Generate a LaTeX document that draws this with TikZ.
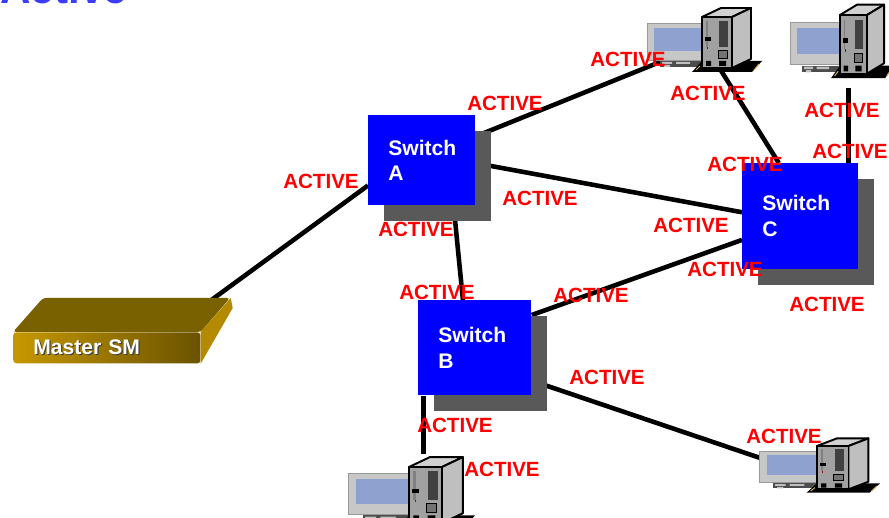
\documentclass[tikz,border=0pt]{standalone}
\usepackage{fontspec}
\setmainfont{Liberation Sans}
\usetikzlibrary{positioning}
\usetikzlibrary{backgrounds}
\usetikzlibrary{shadows}
\usetikzlibrary{calc}
\definecolor{swblue}{RGB}{0,0,255}
\definecolor{swshade}{RGB}{89,89,89}
\definecolor{smgold}{RGB}{198,152,0}
\definecolor{smdark}{RGB}{106,82,0}
\definecolor{smtop}{RGB}{122,97,0}
\definecolor{smside}{RGB}{180,139,0}
\definecolor{screen}{RGB}{143,162,207}
\definecolor{plate}{RGB}{205,165,95}
\definecolor{titleblue}{RGB}{60,60,255}
% white text with a small dark drop under it
\newcommand\embossed[1]{\makebox[0pt][l]{\kern0.7pt\raisebox{-0.7pt}{\color{black!75}#1}}#1}
\tikzset{
semithick, % all lines semithick
network/.style={x=0.2mm,y=-0.2mm},
link/.style={line width=2.6pt},
active/.style={text=red,inner sep=0pt,font=\fontsize{11.7}{14}\selectfont\bfseries},
switch/.style={fill=swblue,text=white,align=left,anchor=north west,
  inner xsep=0.4cm,inner ysep=0pt,
  font=\fontsize{12}{14.7}\selectfont\bfseries,
  drop shadow={shadow xshift=0.32cm,shadow yshift=-0.32cm,fill=swshade,opacity=1}},
sm face/.style={left color=smgold,right color=smdark,rounded corners=0.06cm,
  text=white,align=left,anchor=north west,inner xsep=0.4cm,inner ysep=0pt,
  font=\fontsize{12}{14}\selectfont\bfseries},
tower/.style={draw=black,line width=1.1pt,line join=round},
computer/.pic={
  % monitor and keyboard
  \path[draw=black!40,fill=black!22] (-55,6) rectangle (4,43);
  \path[fill=screen] (-48,11) rectangle (2,34);
  \path[fill=black!70] (-42,44) rectangle (0,50);
  \path[fill=black!25] (-40,45) rectangle (-30,47) (-26,45) rectangle (-12,47) (-38,48) rectangle (-32,50);
  % plate under the tower
  \path[fill=black] (-10,55) -- (50,55) -- (60,44) -- (0,44) -- cycle;
  \draw[plate,line width=0.6pt] (52,53) -- (57,47) (-6,53) -- (-2,49);
  % tower
  \path[tower,fill=black!18] (0,0) -- (19,-9) -- (49,-9) -- (30,0) -- cycle;
  \path[tower,fill=black!25] (30,0) -- (49,-9) -- (49,42) -- (30,51) -- cycle;
  \path[tower,fill=black!37] (0,0) rectangle (30,51);
  \path[fill=black!75] (17,4) rectangle (26,30);
  \path[draw=black,fill=black!55] (16,33) rectangle (25,41);
  \path[fill=black!50] (4,4) rectangle (6,30);
  \path[fill=black] (3,20) rectangle (9,24);
  \path[fill=red!70!black] (5,30) rectangle (6,32);
  \path[fill=black] (4,44) rectangle (9,49) (17,44) rectangle (24,49);
  \coordinate (-top) at (12,-12);
  \coordinate (-foot) at (18,52);
  \coordinate (-jack) at (-42,45);
  \coordinate (-screen) at (-40,20);
}
}

\begin{document}
\begin{tikzpicture}[network]
\useasboundingbox (0,0) rectangle (889,518);
\clip (0,0) rectangle (889,518);

\node[text=titleblue,inner sep=0pt,anchor=base west,font=\fontsize{24}{28}\selectfont\bfseries] (title) at (0,3.5) {Active};

% the subnet manager box
\node[sm face,minimum height=0.62cm,text width=2.94cm] (sm) at (13,332) {\embossed{Master SM}};
\path[fill=smtop,rounded corners=0.06cm] (sm.north west) -- ++(30,-34) -- ++(187,0) -- (sm.north east) -- cycle;
\path[fill=smside] (sm.north east) -- ++(30,-34) -- ++(2,10) -- (sm.south east) -- cycle;
\coordinate (sm port) at ($(sm.north east)+(8,-30)$);

% switches
\node[switch,text width=1.34cm,minimum height=1.8cm] (swA) at (368,115) {Switch\\A};
\node[switch,text width=1.46cm,minimum height=1.9cm] (swB) at (418,300) {Switch\\B};
\node[switch,text width=1.52cm,minimum height=2.12cm] (swC) at (742,163) {Switch\\C};

% hosts
\pic (pc1) at (702,17) {computer};
\pic[xscale=0.9,yscale=1.15] (pc2) at (840,15) {computer};
\pic[scale=1.1] (pc3) at (409,467) {computer};
\pic[xscale=1.05,yscale=0.85] (pc4) at (817,446) {computer};

\begin{scope}[on background layer]
\draw[link] (sm port) -- (swA.205);
\draw[link] (swA.24) -- (pc1-jack);
\draw[link] (swA.357) -- (swC.176);
\draw[link] (swA.305) -- (swB.104);
\draw[link] (swB.30) -- (swC.202);
\draw[link] (swB.330) -- (pc4-screen);
\draw[link] (swB.223) -- (swB.223 |- pc3-top);
\draw[link] (swC.112) -- (pc1-foot);
\draw[link] (swC.48) -- (swC.48 |- {$(pc2-foot)+(0,13)$});
\end{scope}

% port states
\node[active] (st pc1a) at (628,59) {ACTIVE};
\node[active] (st pc1c) at (708,93) {ACTIVE};
\node[active] (st A1) at (505,103) {ACTIVE};
\node[active] (st pc2) at (842,110) {ACTIVE};
\node[active] (st C2) at (850,151) {ACTIVE};
\node[active] (st A0) at (321,181) {ACTIVE};
\node[active] (st C1) at (745,164) {ACTIVE};
\node[active] (st A3) at (540,198) {ACTIVE};
\node[active] (st A2) at (416,229) {ACTIVE};
\node[active] (st C3) at (691,225) {ACTIVE};
\node[active] (st C4) at (725,269) {ACTIVE};
\node[active] (st B0) at (437,292) {ACTIVE};
\node[active] (st B1) at (591,295) {ACTIVE};
\node[active] (st C5) at (827,304) {ACTIVE};
\node[active] (st B2) at (607,377) {ACTIVE};
\node[active] (st B3) at (455,425) {ACTIVE};
\node[active] (st pc3) at (502,469) {ACTIVE};
\node[active] (st pc4) at (784,436) {ACTIVE};
\end{tikzpicture}
\end{document}
